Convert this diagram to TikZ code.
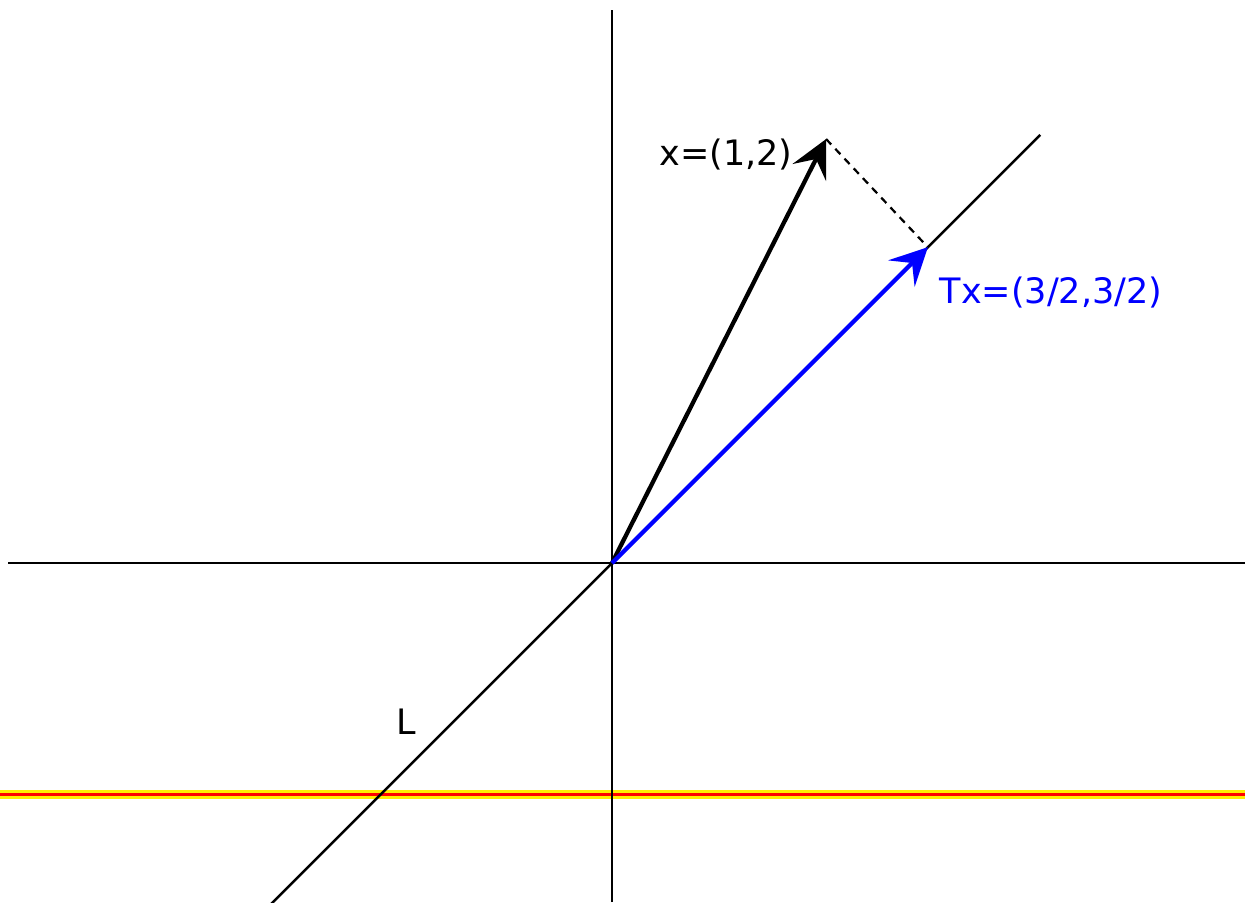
\documentclass[tikz,border=0pt]{standalone}
\usepackage{fontspec}
\setmainfont{DejaVu Sans}
\usetikzlibrary{arrows.meta}

\begin{document}
\begin{tikzpicture}[x=2cm, y=2cm, font=\fontsize{9.4}{11}\selectfont]
        \useasboundingbox (-2.887,-1.599) rectangle (2.986,2.656);

        % --- punti ---
        \coordinate (O) at (0, 0);
        \coordinate (X) at (1.01, 2);
        \coordinate (P) at (1.49, 1.49);
        \coordinate (Ltop) at (2.02, 2.02);
        \coordinate (Lbot) at (-1.61, -1.61);

        % linea rossa/gialla
        \coordinate (Rl) at (-2.887, -1.092);
        \coordinate (Rr) at (2.986, -1.092);
        \draw[yellow!95!orange, line width=2.2pt] (Rl) -- (Rr);
        \draw[red, line width=0.8pt] (Rl) -- (Rr);

        % assi
        \coordinate (Xl) at (-2.849, 0);
        \coordinate (Xr) at (2.986, 0);
        \coordinate (Yt) at (0, 2.608);
        \coordinate (Yb) at (0, -1.599);
        \draw[line width=0.65pt] (Xl) -- (Xr);
        \draw[line width=0.65pt] (Yb) -- (Yt);

        % retta L
        \draw[line width=0.65pt] (Lbot) -- (Ltop);
        \node (lab L) at (-0.972, -0.75) {L};

        % proiezione
        \draw[dash pattern=on 2pt off 1.6pt, line width=0.6pt] (X) -- (P);

        % vettori
        \draw[-{Stealth[length=10pt, width=10pt, inset=4pt]}, line width=1.15pt] (O) -- (X);
        \draw[-{Stealth[length=10pt, width=10pt, inset=4pt]}, blue, line width=1.15pt] (O) -- (P);

        % etichette
        \node (lab x) at (0.538, 1.925) {x=(1,2)};
        \node[blue] (lab Tx) at (2.071, 1.278) {Tx=(3/2,3/2)};
    \end{tikzpicture}
\end{document}
